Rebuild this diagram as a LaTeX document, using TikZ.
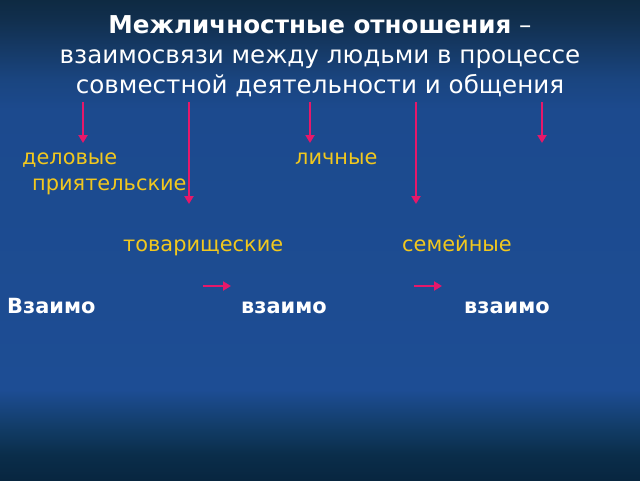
\documentclass[tikz,border=0pt]{standalone}
\usepackage{fontspec}
\setmainfont{DejaVu Sans}
\usetikzlibrary{arrows.meta}
\definecolor{bgA}{HTML}{0E2A42}
\definecolor{bgB}{HTML}{112F4E}
\definecolor{bgC}{HTML}{1A4580}
\definecolor{bgD}{HTML}{1C4A8E}
\definecolor{bgE}{HTML}{1D4D94}
\definecolor{bgF}{HTML}{113B64}
\definecolor{bgG}{HTML}{0A2D4A}
\definecolor{bgH}{HTML}{082640}
\definecolor{arrowpink}{HTML}{E6186A}
\definecolor{labelyellow}{HTML}{F2C81E}
% shading is 100bp square, visible region 25bp..75bp (bottom..top)
\pgfdeclareverticalshading{slidebg}{100bp}{
  color(0bp)=(bgH); color(25bp)=(bgH); color(27.6bp)=(bgG); color(30.2bp)=(bgF);
  color(34.4bp)=(bgE); color(63.5bp)=(bgD); color(66.7bp)=(bgC);
  color(72.9bp)=(bgB); color(75bp)=(bgA); color(100bp)=(bgA)}
\tikzset{
  title/.style={text=white, font=\fontsize{24.6}{29}\selectfont, inner sep=0pt, align=center},
  lbl/.style={text=labelyellow, font=\fontsize{20.9}{25}\selectfont, inner sep=0pt, anchor=base west},
  wlbl/.style={text=white, font=\fontsize{20.9}{25}\selectfont\bfseries, inner sep=0pt, anchor=base west},
  parrow/.style={draw=arrowpink, line width=2pt, -{Triangle[width=9pt,length=8pt]}}
}
\begin{document}
\begin{tikzpicture}[x=1pt,y=-1pt]
\useasboundingbox (0,0) rectangle (640,480);
\fill[shading=slidebg] (0,0) rectangle (640,480);
\node[title, anchor=base] (t1) at (320,33) {\textbf{Межличностные отношения} –};
\node[title, anchor=base] (t2) at (320,63) {взаимосвязи между людьми в процессе};
\node[title, anchor=base] (t3) at (320,93) {совместной деятельности и общения};
\coordinate (a1s) at (83,102);  \coordinate (a1e) at (83,143);
\coordinate (a2s) at (189,102); \coordinate (a2e) at (189,204);
\coordinate (a3s) at (310,102); \coordinate (a3e) at (310,143);
\coordinate (a4s) at (416,102); \coordinate (a4e) at (416,204);
\coordinate (a5s) at (542,102); \coordinate (a5e) at (542,143);
\draw[parrow] (a1s) -- (a1e);
\draw[parrow] (a2s) -- (a2e);
\draw[parrow] (a3s) -- (a3e);
\draw[parrow] (a4s) -- (a4e);
\draw[parrow] (a5s) -- (a5e);
\node[lbl] (del) at (22,164) {деловые};
\node[lbl] (lich) at (295,164) {личные};
\node[lbl] (pri) at (32,190) {приятельские};
\node[lbl] (tov) at (123,251) {товарищеские};
\node[lbl] (sem) at (402,251) {семейные};
\coordinate (h1s) at (203,286); \coordinate (h1e) at (231,286);
\coordinate (h2s) at (414,286); \coordinate (h2e) at (442,286);
\draw[parrow] (h1s) -- (h1e);
\draw[parrow] (h2s) -- (h2e);
\node[wlbl] (v1) at (7,313) {Взаимо};
\node[wlbl] (v2) at (241,313) {взаимо};
\node[wlbl] (v3) at (464,313) {взаимо};
\end{tikzpicture}
\end{document}
